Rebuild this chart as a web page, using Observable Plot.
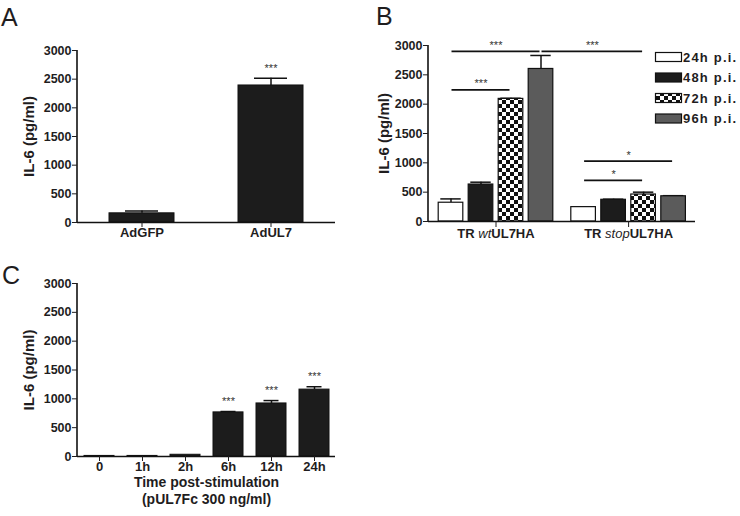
<!DOCTYPE html>
<html><head><meta charset="utf-8">
<script src="https://cdn.jsdelivr.net/npm/d3@7"></script>
<script src="https://cdn.jsdelivr.net/npm/@observablehq/plot@0.6"></script>
<style>
html,body{margin:0;padding:0;background:#fff;}
#wrap{position:relative;width:740px;height:516px;overflow:hidden;font-family:"Liberation Sans",Arial,sans-serif;color:#1f1d1e;}
.panel{position:absolute;}
.letter{position:absolute;font-size:25px;line-height:25px;font-weight:normal;}
[aria-label="y-axis label"] text{font-size:15px;}
#legend{position:absolute;left:0;top:0;}
</style>
</head><body>
<svg width="0" height="0" style="position:absolute">
  <defs>
    <pattern id="checker" patternUnits="userSpaceOnUse" width="8" height="8">
      <rect width="8" height="8" fill="#fff"/>
      <rect width="4" height="4" fill="#111"/>
      <rect x="4" y="4" width="4" height="4" fill="#111"/>
    </pattern>
  </defs>
</svg>
<div id="wrap">
  <div class="panel" id="pa" style="left:0;top:0"></div>
  <div class="panel" id="pb" style="left:370px;top:0"></div>
  <div class="panel" id="pc" style="left:0;top:255px"></div>
  <div class="letter" style="left:1px;top:5px">A</div>
  <div class="letter" style="left:376px;top:4px">B</div>
  <div class="letter" style="left:2px;top:263px">C</div>
  <svg id="legend" width="740" height="516"></svg>
</div>
<script>
// ---------- data ----------
const yTicks = [0, 500, 1000, 1500, 2000, 2500, 3000];

// Panel A
const aCategories = ["AdGFP", "AdUL7"];
const aValues = [160, 2390];
const aErrors = [40, 125];
const aStars = ["", "***"];

// Panel B
const bGroups = ["TR wtUL7HA", "TR stopUL7HA"];
const bGroupItalic = ["wt", "stop"];
const bTimes = ["24h p.i.", "48h p.i.", "72h p.i.", "96h p.i."];
const bWtValues = [320, 630, 2090, 2600];
const bWtErrors = [65, 40, 10, 230];
const bStopValues = [245, 370, 460, 430];
const bStopErrors = [0, 10, 40, 10];
// significance brackets: bar index (0-3 wt, 4-7 stop)
const sigFrom = [0, 3, 0, 4, 4];
const sigTo = [3, 6, 2, 7, 6];
const sigY = [2900, 2900, 2245, 1030, 700];
const sigText = ["***", "***", "***", "*", "*"];

// Panel C
const cCategories = ["0", "1h", "2h", "6h", "12h", "24h"];
const cValues = [10, 10, 30, 765, 920, 1160];
const cErrors = [0, 0, 0, 15, 50, 50];
const cStars = ["", "", "", "***", "***", "***"];
const cXLabel = "Time post-stimulation\n(pUL7Fc 300 ng/ml)";

// ---------- styles ----------
const bFills = ["#ffffff", "#1c1c1c", "url(#checker)", "#5b5b5b"];
const ink = "#111";
const baseStyle = {fontFamily: '"Liberation Sans", Arial, sans-serif', fontSize: "12.5px", fontWeight: "bold", color: "#1f1d1e", background: "transparent", overflow: "visible"};
const yFmt = d => String(d);

const yAxisLine = (index, scales, values, dims) =>
  d3.create("svg:line")
    .attr("x1", dims.marginLeft).attr("x2", dims.marginLeft)
    .attr("y1", scales.y(0)).attr("y2", scales.y(3000))
    .attr("stroke", ink).attr("stroke-width", 1.6).node();

function simplePanel(cats, vals, errs, stars, opts) {
  const data = cats.map((c, i) => ({cat: c, value: vals[i], err: errs[i], star: stars[i]}));
  const withErr = data.filter(d => d.err > 0);
  const marks = [
    Plot.ruleX(withErr, {x: "cat", y1: "value", y2: d => d.value + d.err, stroke: ink, strokeWidth: 1.5}),
    Plot.tickY(withErr, {x: "cat", y: d => d.value + d.err, stroke: ink, strokeWidth: 1.5, insetLeft: opts.capInset, insetRight: opts.capInset}),
    Plot.barY(data, {x: "cat", y: "value", fill: "#1c1c1c", stroke: ink, strokeWidth: 1}),
    Plot.text(data, {x: "cat", y: d => d.value + d.err, text: "star", dy: -10, fontSize: 11, fontWeight: "normal", fill: "#333"}),
    Plot.ruleY([0], {stroke: ink, strokeWidth: 1.6}),
    yAxisLine,
    Plot.axisY({ticks: yTicks, tickFormat: yFmt, tickSize: 5, tickPadding: 1, label: "IL-6 (pg/ml)", labelAnchor: "center", labelOffset: 54, labelArrow: false}),
    Plot.axisX({tickSize: 5, tickPadding: 0, fontSize: 13, label: null})
  ];
  if (opts.xLabel) marks.push(Plot.text([opts.xLabel], {text: d => d, frameAnchor: "bottom", lineAnchor: "top", dy: 18, lineHeight: 1.25, fontSize: 14}));
  return Plot.plot({
    width: 370, height: opts.height,
    marginLeft: 77, marginRight: 35, marginTop: opts.marginTop, marginBottom: opts.marginBottom,
    style: baseStyle,
    x: {domain: cats, paddingInner: opts.paddingInner, paddingOuter: opts.paddingOuter, label: null},
    y: {domain: [0, 3000], label: null},
    marks
  });
}

// ---------- Panel A ----------
const plotA = simplePanel(aCategories, aValues, aErrors, aStars,
  {height: 255, marginTop: 50, marginBottom: 33, paddingInner: 0.5, paddingOuter: 0.25, capInset: 16});
document.getElementById("pa").append(plotA);

// ---------- Panel C ----------
const plotC = simplePanel(cCategories, cValues, cErrors, cStars,
  {height: 261, marginTop: 28, marginBottom: 60, paddingInner: 0.305, paddingOuter: 0.1525, capInset: 7.5, xLabel: cXLabel});
document.getElementById("pc").append(plotC);

// ---------- Panel B ----------
const groupStep = 4.42;          // spacing between groups, in bar steps
const barHalf = 0.41, capHalf = 0.34;
const bData = [];
bGroups.forEach((g, gi) => {
  const vals = gi === 0 ? bWtValues : bStopValues;
  const errs = gi === 0 ? bWtErrors : bStopErrors;
  bTimes.forEach((t, ti) => bData.push({group: g, time: t, pos: gi * groupStep + ti, value: vals[ti], err: errs[ti]}));
});
const bErr = bData.filter(d => d.err > 0);
const sigData = sigFrom.map((f, i) => ({x1: bData[f].pos, x2: bData[sigTo[i]].pos, y: sigY[i], text: sigText[i]}));
const groupCenters = bGroups.map((g, gi) => gi * groupStep + 1.5);
const groupLabel = new Map(groupCenters.map((c, i) => [c, bGroups[i]]));

const plotB = Plot.plot({
  width: 370, height: 255,
  marginLeft: 58, marginRight: 45, marginTop: 45, marginBottom: 34,
  style: baseStyle,
  x: {type: "linear", domain: [-0.75, 8.15], label: null},
  y: {domain: [0, 3000], label: null},
  color: {domain: bTimes, range: bFills},
  marks: [
    Plot.ruleX(bErr, {x: "pos", y1: "value", y2: d => d.value + d.err, stroke: ink, strokeWidth: 1.5}),
    Plot.ruleY(bErr, {x1: d => d.pos - capHalf, x2: d => d.pos + capHalf, y: d => d.value + d.err, stroke: ink, strokeWidth: 1.5}),
    Plot.rect(bData, {x1: d => d.pos - barHalf, x2: d => d.pos + barHalf, y1: 0, y2: "value", fill: "time", stroke: ink, strokeWidth: 1.2}),
    Plot.ruleY(sigData, {x1: "x1", x2: "x2", y: "y", stroke: ink, strokeWidth: 1.8, insetLeft: 1, insetRight: 1}),
    Plot.text(sigData, {x: d => (d.x1 + d.x2) / 2, y: "y", text: "text", dy: -6, fontSize: 11, fontWeight: "normal", fill: "#333"}),
    Plot.ruleY([0], {stroke: ink, strokeWidth: 1.6}),
    yAxisLine,
    Plot.axisY({ticks: yTicks, tickFormat: yFmt, tickSize: 5, tickPadding: 1, label: "IL-6 (pg/ml)", labelAnchor: "center", labelOffset: 50, labelArrow: false}),
    Plot.axisX({ticks: groupCenters, tickFormat: d => groupLabel.get(d), tickSize: 6, tickPadding: 1, fontSize: 13, label: null})
  ]
});
document.getElementById("pb").append(plotB);

// italic parts of group labels
d3.select(plotB).selectAll('[aria-label="x-axis tick label"] text').each(function() {
  const full = this.textContent;
  const gi = bGroups.indexOf(full);
  if (gi < 0) return;
  const it = bGroupItalic[gi];
  const k = full.indexOf(it);
  const sel = d3.select(this);
  sel.text(null);
  sel.append("tspan").text(full.slice(0, k));
  sel.append("tspan").attr("font-style", "italic").attr("font-weight", "normal").text(it);
  sel.append("tspan").text(full.slice(k + it.length));
});

// ---------- Legend (Panel B) ----------
const leg = d3.select("#legend");
const legTop = 57, legStep = 20.5;
bTimes.forEach((t, i) => {
  const cy = legTop + i * legStep;
  leg.append("rect").attr("x", 655.5).attr("y", cy - 4.5).attr("width", 26).attr("height", 9)
    .attr("fill", bFills[i]).attr("stroke", ink).attr("stroke-width", 1.2);
  leg.append("text").attr("x", 683).attr("y", cy).attr("dy", "0.36em")
    .attr("font-family", '"Liberation Sans", Arial, sans-serif').attr("font-weight", "bold")
    .attr("font-size", 13).attr("letter-spacing", "1.2px").attr("fill", "#1f1d1e").text(t);
});
</script>
</body></html>
